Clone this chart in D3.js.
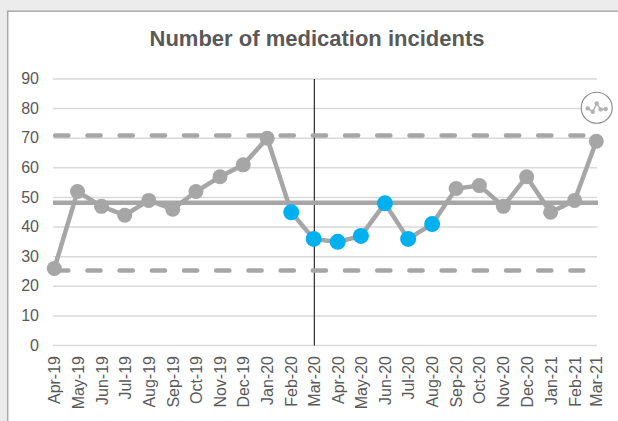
<!DOCTYPE html>
<html>
<head>
<meta charset="utf-8">
<script src="https://cdn.jsdelivr.net/npm/d3@7"></script>
<style>
  html, body { margin: 0; padding: 0; background: #ececec; overflow: hidden; }
  text { font-family: "Liberation Sans", Arial, sans-serif; }
</style>
</head>
<body>
<svg id="chart" width="618" height="421" style="display:block"></svg>
<script>
// values
const months = ["Apr-19","May-19","Jun-19","Jul-19","Aug-19","Sep-19","Oct-19","Nov-19","Dec-19","Jan-20","Feb-20","Mar-20",
                "Apr-20","May-20","Jun-20","Jul-20","Aug-20","Sep-20","Oct-20","Nov-20","Dec-20","Jan-21","Feb-21","Mar-21"];
const incidents = [26,52,47,44,49,46,52,57,61,70,45,36,35,37,48,36,41,53,54,47,57,45,49,69];
const highlighted = ["Feb-20","Mar-20","Apr-20","May-20","Jun-20","Jul-20","Aug-20"];
const yTicks = [0,10,20,30,40,50,60,70,80,90];
const meanLine = 48.2;
const upperLimit = 70.9;
const lowerLimit = 25.3;
const markerMonth = "Mar-20";

const GREY = "#a6a6a6";
const BLUE = "#00b0f0";
const TEXT = "#595959";

const width = 618, height = 421;
const svg = d3.select("#chart");

// the axis is a date axis, months are not quite evenly spaced
const parseMonth = d3.utcParse("%b-%y");
const dates = months.map(parseMonth);

// card
svg.append("rect")
    .attr("x", 7.7).attr("y", 11.2)
    .attr("width", width + 20).attr("height", height + 20)
    .attr("fill", "#fff")
    .attr("stroke", "#a9a9a9")
    .attr("stroke-width", 1.5);

svg.append("text")
    .attr("x", 317).attr("y", 45.5)
    .attr("text-anchor", "middle")
    .attr("font-size", 22)
    .attr("font-weight", "bold")
    .attr("fill", TEXT)
    .text("Number of medication incidents");

const xScale = d3.scaleUtc().domain(d3.extent(dates)).range([54.3, 596.3]);
const yScale = d3.scaleLinear().domain([0, 90]).range([345.5, 79]);

// gridlines
svg.append("g").selectAll("line")
    .data(yTicks)
    .join("line")
    .attr("x1", 53).attr("x2", 597)
    .attr("y1", d => yScale(d)).attr("y2", d => yScale(d))
    .attr("stroke", "#d9d9d9")
    .attr("stroke-width", 1.5);

// y axis labels
const yAxis = d3.axisLeft(yScale).tickValues(yTicks).tickSize(0).tickPadding(0).offset(0);
const yG = svg.append("g")
    .attr("transform", "translate(39,0)")
    .call(yAxis);
yG.select(".domain").remove();
yG.selectAll("text").attr("font-size", 16).attr("fill", TEXT)
    .style("font-family", '"Liberation Sans", Arial, sans-serif');

// x axis labels
const xAxis = d3.axisBottom(xScale).tickValues(dates).tickFormat(d3.utcFormat("%b-%y")).tickSize(0).tickPadding(0).offset(0);
const xG = svg.append("g")
    .attr("transform", "translate(0,356)")
    .call(xAxis);
xG.select(".domain").remove();
xG.selectAll("text")
    .attr("font-size", 16)
    .attr("fill", TEXT)
    .style("font-family", '"Liberation Sans", Arial, sans-serif')
    .attr("text-anchor", "end")
    .attr("dy", null)
    .attr("y", null)
    .attr("transform", "translate(6,0) rotate(-90)");

// vertical marker
svg.append("line")
    .attr("x1", xScale(parseMonth(markerMonth)) + 0.6).attr("x2", xScale(parseMonth(markerMonth)) + 0.6)
    .attr("y1", yScale(90)).attr("y2", yScale(0))
    .attr("stroke", "#000")
    .attr("stroke-width", 1);

// mean and limits
svg.append("line")
    .attr("x1", 53).attr("x2", 598)
    .attr("y1", yScale(meanLine)).attr("y2", yScale(meanLine))
    .attr("stroke", GREY).attr("stroke-width", 4.5);

svg.append("g").selectAll("line")
    .data([upperLimit, lowerLimit])
    .join("line")
    .attr("x1", 55.2).attr("x2", 583.3)
    .attr("y1", d => yScale(d)).attr("y2", d => yScale(d))
    .attr("stroke", GREY).attr("stroke-width", 4.5)
    .attr("stroke-linecap", "round")
    .attr("stroke-dasharray", "13.2 19");

// the series
const line = d3.line()
    .x((d, i) => xScale(dates[i]))
    .y(d => yScale(d));

svg.append("path")
    .attr("d", line(incidents))
    .attr("fill", "none")
    .attr("stroke", GREY)
    .attr("stroke-width", 4.5);

svg.append("g").selectAll("circle")
    .data(incidents)
    .join("circle")
    .attr("cx", (d, i) => xScale(dates[i]))
    .attr("cy", d => yScale(d))
    .attr("r", (d, i) => highlighted.includes(months[i]) ? 8 : 7.5)
    .attr("fill", (d, i) => highlighted.includes(months[i]) ? BLUE : GREY);

// small chart icon top right
const icon = svg.append("g").attr("transform", "translate(596.7,107.7)");
icon.append("circle").attr("cy", 0.8).attr("r", 16).attr("fill", "#e6e6e6");
icon.append("circle").attr("r", 15.5).attr("fill", "#fff").attr("stroke", "#8c8c8c").attr("stroke-width", 1.1);
const iconPts = [[-9,0.7],[-4,4],[0,-4.3],[4,1.7],[9,1.3]];
icon.append("path").attr("d", d3.line()(iconPts)).attr("fill", "none").attr("stroke", "#b3b3b3").attr("stroke-width", 1.5);
icon.selectAll(".dot").data(iconPts).join("circle").attr("class", "dot")
    .attr("cx", d => d[0]).attr("cy", d => d[1]).attr("r", 2.2).attr("fill", "#b3b3b3");
</script>
</body>
</html>
